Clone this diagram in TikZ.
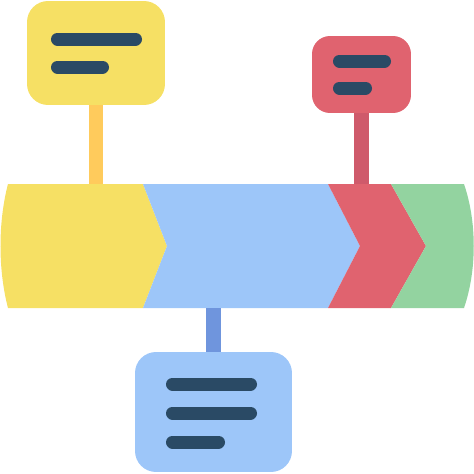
\documentclass[tikz,border=0pt]{standalone}
\definecolor{yel}{HTML}{F6E064}
\definecolor{yelstem}{HTML}{FFCB5C}
\definecolor{blu}{HTML}{9DC6F9}
\definecolor{blustem}{HTML}{6F95DD}
\definecolor{rd}{HTML}{E0636F}
\definecolor{rdstem}{HTML}{CF5A6B}
\definecolor{grn}{HTML}{93D3A0}
\definecolor{ink}{HTML}{2A4A65}
\tikzset{basic/.style={draw=none,inner sep=0pt,rounded corners=0.42cm}}
\tikzset{note/.style={basic,rectangle}}
\tikzset{bar/.style={draw=ink,line width=7.4pt,line cap=round}}
\tikzset{stem/.style={line width=8pt}}

\begin{document}
\begin{tikzpicture}[x=0.02cm,y=-0.02cm]
    \useasboundingbox (0,0) rectangle (474,474);
    % band
    \fill[yel] (8,184) -- (143,184) -- (167,246) -- (143,308) -- (8,308)
        .. controls (-2,270) and (-2,222) .. (8,184) -- cycle;
    \fill[blu] (143,184) -- (328,184) -- (360,246) -- (328,308) -- (143,308) -- (167,246) -- cycle;
    \fill[rd] (328,184) -- (391,184) -- (426,246) -- (391,308) -- (328,308) -- (360,246) -- cycle;
    \fill[grn] (391,184) -- (464,184) .. controls (477,222) and (477,270) .. (464,308)
        -- (391,308) -- (426,246) -- cycle;
    \coordinate (bandtop) at (0,184);
    \coordinate (bandbot) at (0,308);
    % notes
    \node[note,fill=yel,minimum width=2.76cm,minimum height=2.08cm] (note1) at (96,53) {};
    \node[note,fill=rd,minimum width=1.98cm,minimum height=1.54cm,rounded corners=0.36cm] (note2) at (361.5,74.5) {};
    \node[note,fill=blu,minimum width=3.14cm,minimum height=2.4cm] (note3) at (213.5,412) {};
    \foreach \n/\c in {note1/yelstem,note2/rdstem}{%
          \draw[stem,\c] (\n.south) -- (\n.south |- bandtop);
        }
    \draw[stem,blustem] (note3.north) -- (note3.north |- bandbot);
    % text lines
    \foreach \n/\dx/\dy/\len in {note1/-38.5/-14/78,note1/-38.5/14/45,
                                 note2/-22/-13.5/45,note2/-22/13.5/26,
                                 note3/-41/-28/78,note3/-41/1/78,note3/-41/30/46}{%
          \draw[bar] ([shift={(\dx,\dy)}]\n.center) -- ++(\len,0);
        }
\end{tikzpicture}
\end{document}
